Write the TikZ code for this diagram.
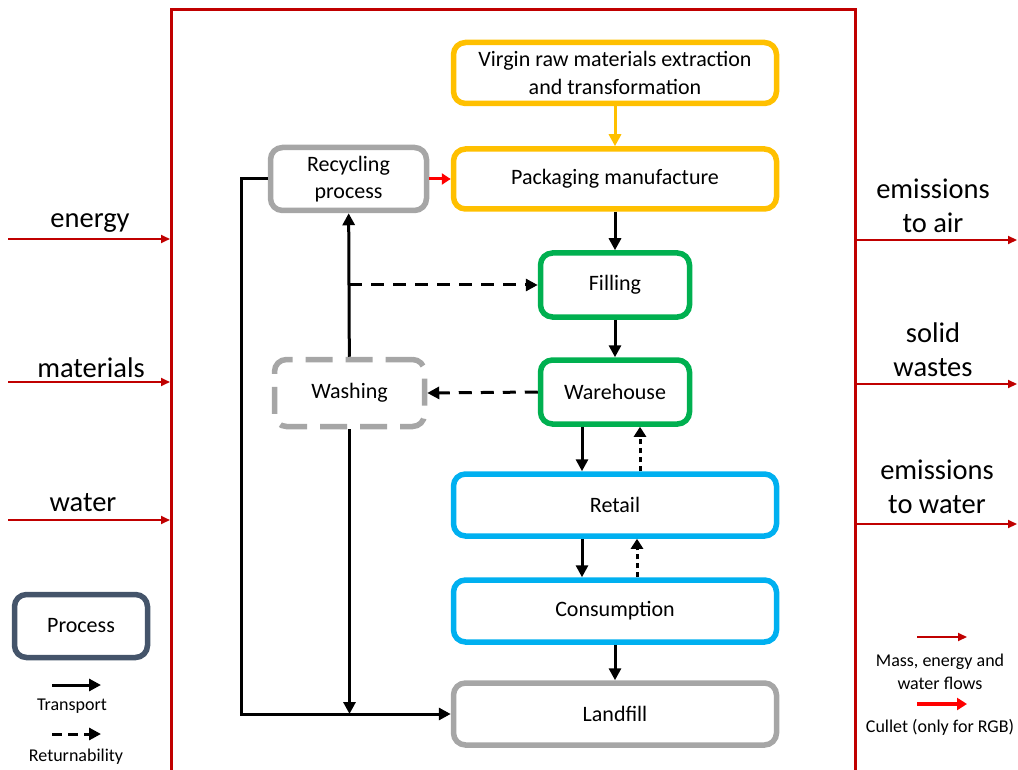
\documentclass[tikz,border=0pt]{standalone}
\usepackage{fontspec}
\setmainfont{Carlito}
\usetikzlibrary{arrows.meta,calc}
\definecolor{bound}{RGB}{192,0,0}
\definecolor{cyel}{RGB}{255,192,0}
\definecolor{cgrn}{RGB}{0,176,80}
\definecolor{cblu}{RGB}{0,176,240}
\definecolor{cgry}{RGB}{166,166,166}
\definecolor{cslate}{RGB}{68,84,106}
\definecolor{cred}{RGB}{255,0,0}
\tikzset{
  box/.style={draw, rounded corners=12pt, line width=5.5pt, fill=white, align=center,
    font=\fontsize{22}{27.5}\selectfont, inner sep=2pt},
  flow/.style={line width=3pt, -{Triangle[length=12pt,width=12pt]}},
  ret/.style={flow, dash pattern=on 13pt off 9pt},
  back/.style={line width=3pt, dash pattern=on 5pt off 4pt, -{Triangle[length=10pt,width=12pt]}},
  ioflow/.style={bound, line width=2.2pt, -{Triangle[length=9pt,width=8pt]}},
  iolab/.style={font=\fontsize{28.5}{34}\selectfont, align=center},
  leg/.style={font=\fontsize{18}{23}\selectfont, align=center}
}
\begin{document}
\begin{tikzpicture}[x=1pt,y=-1pt]
\useasboundingbox (0,0) rectangle (1018,770);

% system boundary
\draw[bound, line width=3pt] (171,775) -- (171,9.5) -- (855.5,9.5) -- (855.5,775);

% inputs
\coordinate (eL) at (8,239);   \coordinate (eR) at (170,239);
\coordinate (mL) at (8,382);   \coordinate (mR) at (170,382);
\coordinate (wL) at (8,520);   \coordinate (wR) at (170,520);
\draw[ioflow] (eL) -- (eR);
\draw[ioflow] (mL) -- (mR);
\draw[ioflow] (wL) -- (wR);
\node[iolab] (tE) at (90,223) {energy};
\node[iolab] (tM) at (91,368) {materials};
\node[iolab] (tW) at (83,503) {water};

% outputs
\coordinate (aL) at (857,240);  \coordinate (aR) at (1017,240);
\coordinate (sL) at (857,384);  \coordinate (sR) at (1017,384);
\coordinate (oL) at (857,524);  \coordinate (oR) at (1017,524);
\draw[ioflow] (aL) -- (aR);
\draw[ioflow] (sL) -- (sR);
\draw[ioflow] (oL) -- (oR);
\node[iolab] (tA) at (933,206) {emissions\\to air};
\node[iolab] (tS) at (933,350) {solid\\wastes};
\node[iolab] (tO) at (937,487) {emissions\\to water};

% process boxes
\node[box, draw=cyel, minimum width=323pt, minimum height=61pt] (virgin) at (615,73)
  {Virgin raw materials extraction\\and transformation};
\node[box, draw=cyel, minimum width=323pt, minimum height=60pt] (pack) at (615,179)
  {Packaging manufacture};
\node[box, draw=cgry, minimum width=156pt, minimum height=63pt] (recyc) at (348.5,179)
  {Recycling\\process};
\node[box, draw=cgrn, minimum width=149pt, minimum height=64pt] (fill) at (615,285) {Filling};
\node[box, draw=cgrn, minimum width=149pt, minimum height=64pt] (ware) at (615,392) {Warehouse};
\node[box, draw=cgry, dash pattern=on 27pt off 13pt, minimum width=150pt, minimum height=67pt] (wash) at (349.5,393) {Washing};
\node[box, draw=cblu, minimum width=323pt, minimum height=62pt] (retail) at (615,505) {Retail};
\node[box, draw=cblu, minimum width=323pt, minimum height=62pt] (cons) at (615,611) {Consumption};
\node[box, draw=cgry, minimum width=323pt, minimum height=62pt] (land) at (615,714) {Landfill};

% main chain
\draw[flow, cyel] (virgin) -- (pack);
\draw[flow, cred, -{Triangle[length=9pt,width=11pt]}] (recyc) -- (pack);
\draw[flow] (pack) -- (fill);
\draw[flow] (fill) -- (ware);
\draw[flow] ([xshift=-33pt]ware.south) -- ([xshift=-33pt]retail.north);
\draw[back] ([xshift=25pt]retail.north) -- ([xshift=25pt]ware.south);
\draw[flow] ([xshift=-33pt]retail.south) -- ([xshift=-33pt]cons.north);
\draw[back] ([xshift=22pt]cons.north) -- ([xshift=22pt]retail.south);
\draw[flow] (cons) -- (land);

% returnable loop
\draw[flow] (wash) -- (recyc);
\coordinate (split) at ($(wash.north)!0.5!(recyc.south) + (0,3)$);
\draw[ret] (split |- fill.west) -- (fill.west);
\draw[ret] (ware.west) -- (wash.east);
\coordinate (washLow) at (wash.south |- land.west);
\draw[flow] (wash.south) -- (washLow);

% recycling to landfill
\coordinate (rk) at (241,179);
\draw[flow] (recyc.west) -- (rk) |- (land.west);

% legend left
\node[box, draw=cslate, minimum width=133pt, minimum height=63pt] (proc) at (81,626) {Process};
\coordinate (tS1) at (52,685); \coordinate (tS2) at (101,685);
\draw[flow] (tS1) -- (tS2);
\node[leg] (tT) at (72,706) {Transport};
\coordinate (rS1) at (52,734); \coordinate (rS2) at (101,734);
\draw[line width=3pt, dash pattern=on 10pt off 6pt, -{Triangle[length=12pt,width=12pt]}] (rS1) -- (rS2);
\node[leg] (tR) at (76,757) {Returnability};

% legend right
\coordinate (m1) at (917,637); \coordinate (m2) at (967,637);
\draw[bound, line width=2pt, -{Triangle[length=9pt,width=8pt]}] (m1) -- (m2);
\node[leg] (tMass) at (940,672) {Mass, energy and\\water flows};
\coordinate (c1) at (917,704); \coordinate (c2) at (967,704);
\draw[cred, line width=3.5pt, -{Triangle[length=10pt,width=12pt]}] (c1) -- (c2);
\node[leg] (tC) at (940,727) {Cullet (only for RGB)};
\end{tikzpicture}
\end{document}
